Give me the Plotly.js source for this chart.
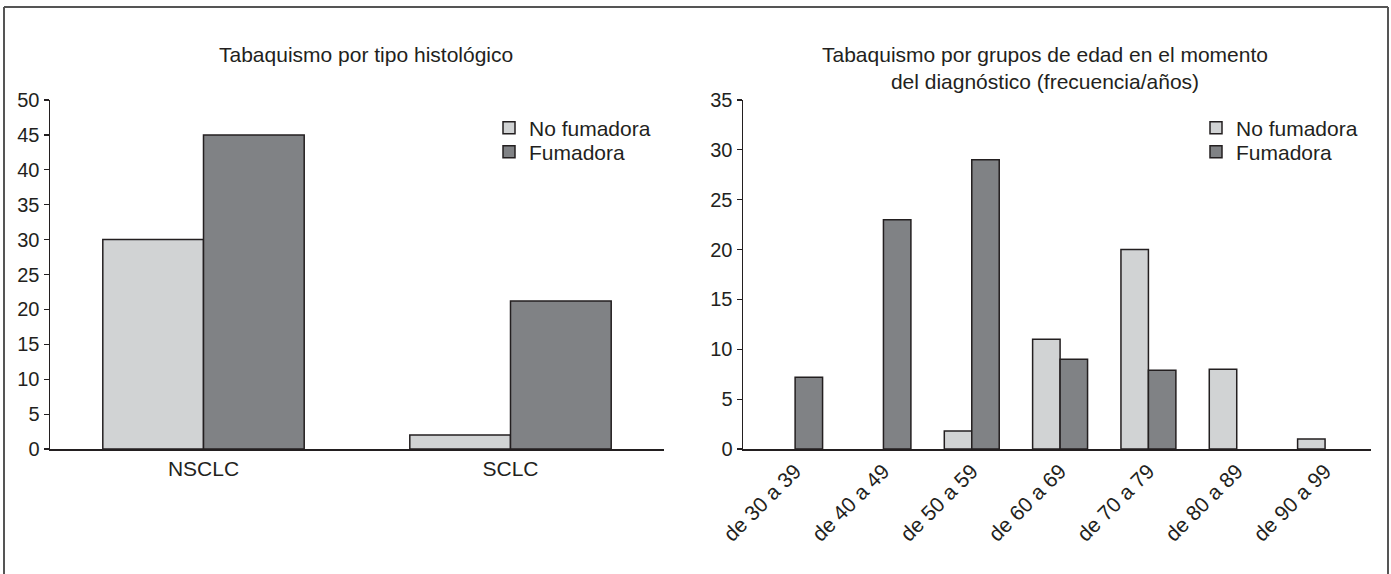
<!DOCTYPE html>
<html>
<head>
<meta charset="utf-8">
<script src="https://cdn.plot.ly/plotly-3.0.1.min.js"></script>
<style>html,body{margin:0;padding:0;background:#fff;}#chart{width:1391px;height:574px;}</style>
</head>
<body>
<div id="chart"></div>
<script>
// Left chart: smoking by histological type
const histCategories = ["NSCLC", "SCLC"];
const histNoFumadora = [30, 2];
const histFumadora = [45, 21.2];

// Right chart: smoking by age group at diagnosis
const ageCategories = ["de 30 a 39", "de 40 a 49", "de 50 a 59", "de 60 a 69", "de 70 a 79", "de 80 a 89", "de 90 a 99"];
const ageNoFumadora = [null, null, 1.8, 11, 20, 8, 1];
const ageFumadora = [7.2, 23, 29, 9, 7.9, null, null];

const seriesNames = ["No fumadora", "Fumadora"];
const leftTitle = "Tabaquismo por tipo histológico";
const rightTitle = "Tabaquismo por grupos de edad en el momento<br>del diagnóstico (frecuencia/años)";

const LIGHT = "#d1d3d4", DARK = "#808285", EDGE = "#231f20";
const FONT = "Liberation Sans, Arial, sans-serif";
const W = 1391, H = 574;
const px = v => v / W, py = v => (H - v) / H;

const leftW = 0.328, rightW = 0.311;

const traces = [
  {type: "bar", x: histCategories, y: histNoFumadora, name: seriesNames[0], xaxis: "x", yaxis: "y", legend: "legend",
   width: leftW, offset: -leftW, marker: {color: LIGHT, line: {color: EDGE, width: 1.5}}},
  {type: "bar", x: histCategories, y: histFumadora, name: seriesNames[1], xaxis: "x", yaxis: "y", legend: "legend2",
   width: leftW, offset: 0, marker: {color: DARK, line: {color: EDGE, width: 1.5}}},
  {type: "bar", x: ageCategories, y: ageNoFumadora, name: seriesNames[0], xaxis: "x2", yaxis: "y2", legend: "legend3",
   width: rightW, offset: -rightW, marker: {color: LIGHT, line: {color: EDGE, width: 1.5}}},
  {type: "bar", x: ageCategories, y: ageFumadora, name: seriesNames[1], xaxis: "x2", yaxis: "y2", legend: "legend4",
   width: rightW, offset: 0, marker: {color: DARK, line: {color: EDGE, width: 1.5}}}
];

const yDom = [py(449), py(100)];
const axisCommon = {showgrid: false, zeroline: false, showline: true, linecolor: EDGE, linewidth: 1.5,
  tickfont: {family: FONT, size: 20, color: "#231f20"}};

const legendCommon = {font: {family: FONT, size: 21, color: "#231f20"}, bgcolor: "rgba(0,0,0,0)",
  xanchor: "left", yanchor: "middle", itemwidth: 30, borderwidth: 0};

const layout = {
  width: W, height: H,
  margin: {l: 0, r: 0, t: 0, b: 0},
  paper_bgcolor: "#fff", plot_bgcolor: "#fff",
  barmode: "overlay",
  font: {family: FONT, size: 21, color: "#231f20"},
  showlegend: true,
  xaxis: Object.assign({}, axisCommon, {domain: [px(50), px(664)], range: [-0.5, 1.5], ticks: "", anchor: "y",
    tickfont: {family: FONT, size: 21, color: "#231f20"}}),
  yaxis: Object.assign({}, axisCommon, {domain: yDom, range: [0, 50], dtick: 5, ticks: "outside", ticklen: 5, tickwidth: 1.2, tickcolor: EDGE, anchor: "x"}),
  xaxis2: Object.assign({}, axisCommon, {domain: [px(743), px(1371)], range: [-0.59, 6.52], ticks: "", tickangle: -45, anchor: "y2",
    tickfont: {family: FONT, size: 21, color: "#231f20"}}),
  yaxis2: Object.assign({}, axisCommon, {domain: yDom, range: [0, 35], dtick: 5, ticks: "outside", ticklen: 5, tickwidth: 1.2, tickcolor: EDGE, anchor: "x2"}),
  legend: Object.assign({}, legendCommon, {x: px(489), y: py(128)}),
  legend2: Object.assign({}, legendCommon, {x: px(489), y: py(152)}),
  legend3: Object.assign({}, legendCommon, {x: px(1196), y: py(128)}),
  legend4: Object.assign({}, legendCommon, {x: px(1196), y: py(152)}),
  annotations: [
    {text: leftTitle, xref: "paper", yref: "paper", x: px(366), y: py(55), xanchor: "center", yanchor: "middle",
     showarrow: false, font: {family: FONT, size: 21, color: "#231f20"}},
    {text: rightTitle, xref: "paper", yref: "paper", x: px(1045), y: py(68), xanchor: "center", yanchor: "middle",
     showarrow: false, font: {family: FONT, size: 21, color: "#231f20"}}
  ],
  shapes: [
    {type: "line", xref: "paper", yref: "paper", x0: px(4), x1: px(4), y0: 0, y1: py(7), line: {color: "#555", width: 2}},
    {type: "line", xref: "paper", yref: "paper", x0: px(4), x1: px(1388), y0: py(7), y1: py(7), line: {color: "#555", width: 2}},
    {type: "line", xref: "paper", yref: "paper", x0: px(1388), x1: px(1388), y0: 0, y1: py(7), line: {color: "#555", width: 2}}
  ]
};

Plotly.newPlot("chart", traces, layout, {staticPlot: true, displayModeBar: false});
</script>
</body>
</html>
